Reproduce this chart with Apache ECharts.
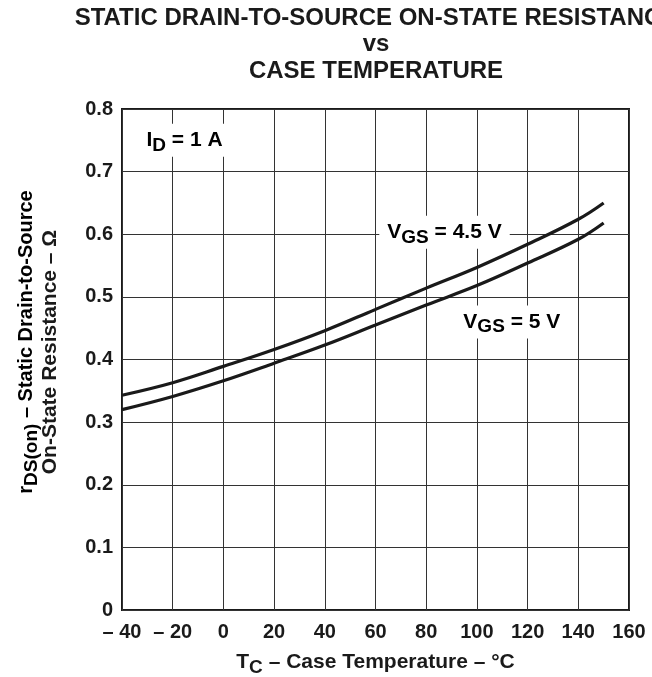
<!DOCTYPE html>
<html>
<head>
<meta charset="utf-8">
<script src="https://cdn.jsdelivr.net/npm/echarts@6/dist/echarts.min.js"></script>
<style>
  html, body { margin: 0; padding: 0; background: #fff; }
  #chart { width: 652px; height: 677px; }
</style>
</head>
<body>
<div id="chart"></div>
<script>
// Case temperature (°C) at which the curves are sampled
const temps = [-40, -20, 0, 20, 40, 60, 80, 100, 120, 140, 150];
// rDS(on) in ohms, ID = 1 A
const rdsVgs45 = [0.343, 0.363, 0.389, 0.416, 0.446, 0.480, 0.514, 0.547, 0.584, 0.624, 0.650];
const rdsVgs5  = [0.320, 0.341, 0.366, 0.394, 0.423, 0.455, 0.487, 0.518, 0.554, 0.592, 0.618];
// Axis ranges and tick steps
const xRange = [-40, 160, 20];
const yRange = [0, 0.8, 0.1];

const FONT = '"Liberation Sans", Arial, Helvetica, sans-serif';
const INK = '#1a1a1a';

function pairs(xs, ys) { return xs.map((x, i) => [x, ys[i]]); }

function richStyles(size, subSize, drop) {
  return {
    n: { fontFamily: FONT, fontWeight: 'bold', fontSize: size, color: INK, verticalAlign: 'top', lineHeight: size + 2 },
    s: { fontFamily: FONT, fontWeight: 'bold', fontSize: subSize, color: INK, verticalAlign: 'top', lineHeight: subSize + 2, padding: [drop, 0, 0, 0] }
  };
}

const chart = echarts.init(document.getElementById('chart'), null, { renderer: 'canvas' });

const option = {
  animation: false,
  backgroundColor: '#ffffff',
  grid: {
    left: 122, right: 23, top: 109, bottom: 67,
    containLabel: false,
    outerBoundsMode: 'none',
    show: true, borderColor: INK, borderWidth: 2, backgroundColor: 'transparent'
  },
  xAxis: {
    type: 'value',
    min: xRange[0], max: xRange[1], interval: xRange[2],
    axisLine: { show: false },
    axisTick: { show: false },
    splitLine: { show: true, lineStyle: { color: '#333', width: 1 } },
    axisLabel: {
      fontFamily: FONT, fontWeight: 'bold', fontSize: 20, color: INK, margin: 12,
      formatter: v => (v < 0 ? '\u2013 ' + (-v) : String(v))
    },
    name: '{n|T}{s|C}{n| \u2013 Case Temperature \u2013 \u00B0C}',
    nameLocation: 'middle',
    nameGap: 42,
    nameTextStyle: { rich: richStyles(21, 19, 6) }
  },
  yAxis: {
    type: 'value',
    min: yRange[0], max: yRange[1], interval: yRange[2],
    axisLine: { show: false },
    axisTick: { show: false },
    splitLine: { show: true, lineStyle: { color: '#333', width: 1 } },
    axisLabel: {
      fontFamily: FONT, fontWeight: 'bold', fontSize: 20, color: INK, margin: 9,
      formatter: v => (v === 0 ? '0' : v.toFixed(1))
    }
  },
  series: [
    {
      name: 'VGS = 4.5 V',
      type: 'line',
      smooth: 0.4,
      symbol: 'none',
      lineStyle: { color: INK, width: 3.2 },
      data: pairs(temps, rdsVgs45),
      z: 5
    },
    {
      name: 'VGS = 5 V',
      type: 'line',
      smooth: 0.4,
      symbol: 'none',
      lineStyle: { color: INK, width: 3.2 },
      data: pairs(temps, rdsVgs5),
      z: 5
    }
  ]
};

chart.setOption(option);

// In-plot annotations, anchored at data coordinates (left edge, vertical middle)
const notes = [
  { at: [-33.5, 0.75], text: '{n|I}{s|D}{n| = 1 A}', size: 21 },
  { at: [61.5, 0.603], text: '{n|V}{s|GS}{n| = 4.5 V}', size: 21 },
  { at: [91.5, 0.46], text: '{n|V}{s|GS}{n| = 5 V}', size: 21 }
];

const graphics = notes.map(n => {
  const p = chart.convertToPixel({ gridIndex: 0 }, n.at);
  return {
    type: 'text',
    x: p[0], y: p[1],
    z: 3,
    style: {
      text: n.text,
      rich: richStyles(n.size, n.size - 2, 6),
      align: 'left',
      verticalAlign: 'middle',
      backgroundColor: '#ffffff',
      padding: [6, 8, 4, 8]
    }
  };
});

// Vertical axis title, two rotated lines
graphics.push({
  type: 'text',
  x: 27, y: 342,
  rotation: Math.PI / 2,
  style: {
    text: '{n|r}{s|DS(on)}{n| \u2013 Static Drain-to-Source}',
    rich: richStyles(20, 19, 6),
    align: 'center',
    verticalAlign: 'middle'
  }
});
graphics.push({
  type: 'text',
  x: 50, y: 352,
  rotation: Math.PI / 2,
  style: {
    text: 'On-State Resistance \u2013 \u03A9',
    fontFamily: FONT, fontWeight: 'bold', fontSize: 21,
    fill: INK, align: 'center', verticalAlign: 'middle'
  }
});

// Chart heading
graphics.push({
  type: 'text',
  x: 376, y: 5,
  style: {
    text: 'STATIC DRAIN-TO-SOURCE ON-STATE RESISTANCE\nvs\nCASE TEMPERATURE',
    fontFamily: FONT, fontWeight: 'bold', fontSize: 24, lineHeight: 26.5,
    fill: INK, align: 'center', verticalAlign: 'top'
  }
});

chart.setOption({ graphic: graphics });
</script>
</body>
</html>
